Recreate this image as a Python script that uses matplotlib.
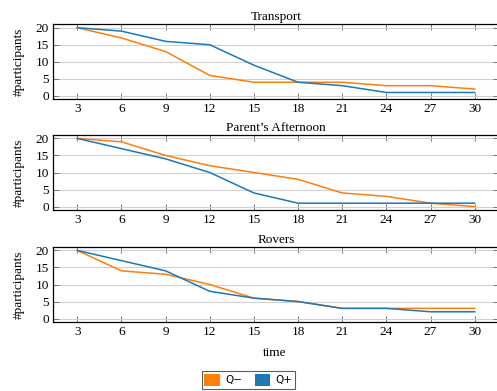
import matplotlib.pyplot as plt
from matplotlib.patches import Patch

# Data
times = [3, 6, 9, 12, 15, 18, 21, 24, 27, 30]
titles = ["Transport", "Parent\u2019s Afternoon", "Rovers"]

transport_qminus = [20, 17, 13, 6, 4, 4, 4, 3, 3, 2]
transport_qplus = [20, 19, 16, 15, 9, 4, 3, 1, 1, 1]
parents_qminus = [20, 19, 15, 12, 10, 8, 4, 3, 1, 0]
parents_qplus = [20, 17, 14, 10, 4, 1, 1, 1, 1, 1]
rovers_qminus = [20, 14, 13, 10, 6, 5, 3, 3, 3, 3]
rovers_qplus = [20, 17, 14, 8, 6, 5, 3, 3, 2, 2]

series = [
    (transport_qminus, transport_qplus),
    (parents_qminus, parents_qplus),
    (rovers_qminus, rovers_qplus),
]

ORANGE = "#ff7f0e"
BLUE = "#1f77b4"
W, H = 497, 391

plt.rcParams["font.family"] = ["Liberation Serif", "DejaVu Serif"]

fig = plt.figure(figsize=(W / 100, H / 100), dpi=100)

# axes boxes in pixels: (top, bottom)
boxes = [(24.3, 99.3), (135.0, 210.0), (247.0, 322.0)]
left_px, right_px = 53.0, 499.0

for (top, bot), title, (qm, qp) in zip(boxes, titles, series):
    ax = fig.add_axes([left_px / W, 1 - bot / H, (right_px - left_px) / W, (bot - top) / H])
    ax.plot(times, qm, color=ORANGE, lw=1.1, zorder=3)
    ax.plot(times, qp, color=BLUE, lw=1.1, zorder=3)
    ax.set_xlim(1.35, 31.65)
    ax.set_ylim(-1, 21)
    ax.set_xticks(times)
    ax.set_yticks([0, 5, 10, 15, 20])
    ax.grid(True, axis="y", color="#d0d0d0", lw=0.8, zorder=0)
    ax.tick_params(direction="in", length=4, width=0.7, color="#777777",
                   top=True, right=True, labelsize=9.5, pad=3)
    for s in ax.spines.values():
        s.set_linewidth(0.9)
    ax.set_title(title, fontsize=9.5, pad=3)
    ax.set_ylabel("#participants", fontsize=9.5, labelpad=8)

fig.text(0.5 * (left_px + 497) / W, 1 - 353 / H, "time", ha="center", va="center", fontsize=9.5)

handles = [Patch(facecolor=ORANGE, edgecolor="none", label="Q\u2212"),
           Patch(facecolor=BLUE, edgecolor="none", label="Q+")]
leg = fig.legend(handles=handles, ncol=2, loc="center",
                 bbox_to_anchor=(248.5 / W, 1 - 380 / H),
                 prop={"family": "DejaVu Sans", "size": 7.5},
                 handlelength=1.5, handleheight=1.5, handletextpad=0.5,
                 columnspacing=1.2, borderpad=0.25, fancybox=False,
                 frameon=True, edgecolor="#333333")
leg.get_frame().set_linewidth(0.8)

fig.savefig("out.png", dpi=100)
